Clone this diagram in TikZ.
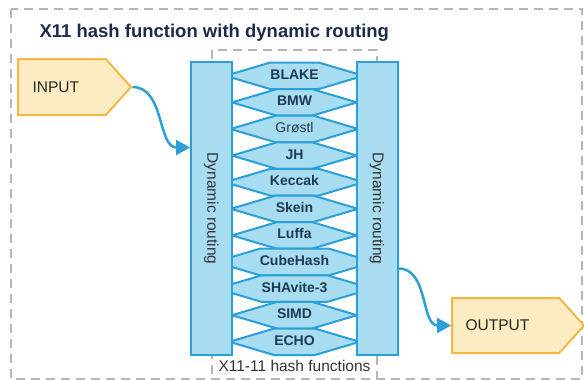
\documentclass[tikz,border=0pt]{standalone}
\usepackage{fontspec}
\setmainfont{Liberation Sans}
\usetikzlibrary{arrows.meta,shapes.symbols,positioning}

\definecolor{routefill}{HTML}{A7DCF1}
\definecolor{routeline}{HTML}{2A9FD8}
\definecolor{iofill}{HTML}{FDEBC2}
\definecolor{ioline}{HTML}{F3B843}
\definecolor{boxgray}{HTML}{B5B5B5}
\definecolor{hashtext}{HTML}{1D3C52}
\definecolor{titletext}{HTML}{1B2B4B}

\begin{document}
\begin{tikzpicture}[x=1pt,y=-1pt,>={Triangle[length=14pt,width=15pt]},
        route/.style={draw=routeline,fill=routefill,line width=2pt,
            minimum width=41pt,minimum height=293pt,inner sep=0pt},
        routetext/.style={rotate=-90,font=\fontsize{15.5}{16}\selectfont,text=black!80},
        hash/.style={signal,signal to=east and west,draw=routeline,fill=routefill,
            line width=2pt,minimum width=125pt,text height=10pt,text depth=3pt,
            inner xsep=0pt,inner ysep=6.8pt,signal pointer angle=33,
            font=\bfseries\fontsize{14}{14}\selectfont,text=hashtext},
        io/.style={signal,signal to=east,draw=ioline,fill=iofill,line width=2pt,
            signal pointer angle=96,inner sep=0pt,anchor=west},
        iotext/.style={anchor=west,font=\fontsize{15.5}{16}\selectfont,text=black!85},
        flow/.style={->,draw=routeline,line width=2.5pt},
        group/.style={draw=boxgray,line width=2pt,dash pattern=on 9pt off 6pt}]

    \useasboundingbox (0,0) rectangle (584,380);

    % outer frame and title
    \draw[group] (11,9) rectangle (582,379);
    \node[anchor=base west,font=\bfseries\fontsize{18.5}{20}\selectfont,text=titletext]
        (title) at (36,37) {X11 hash function with dynamic routing};

    % the eleven hash functions
    \draw[group] (212,50) rectangle (377,395);
    \foreach \name [count=\i from 0] in {BLAKE,BMW,\textmd{Grøstl},JH,Keccak,Skein,
            Luffa,CubeHash,SHAvite-3,SIMD,ECHO}
        \node[hash] (h\i) at (294.5,75.8+26.6*\i) {\name};
    \node[font=\fontsize{15.5}{16}\selectfont,text=black!80] (hashlabel) at (294.5,366)
        {X11-11 hash functions};

    % routing blocks
    \node[route] (lroute) at (211.5,208.5) {};
    \node[route] (rroute) at (377,208.5) {};
    \node[routetext] (ltext) at (lroute) {Dynamic routing};
    \node[routetext] (rtext) at (rroute) {Dynamic routing};

    % input and output
    \node[io,minimum width=113pt,minimum height=56pt] (input) at (17,87) {};
    \node[iotext] (intext) at ([xshift=12pt]input.west) {INPUT};
    \node[io,minimum width=132pt,minimum height=55pt] (output) at (451,325.5) {};
    \node[iotext] (outtext) at ([xshift=11pt]output.west) {OUTPUT};

    \draw[flow] (input.east) to[out=0,in=180] ([yshift=61pt]lroute.west);
    \draw[flow] ([yshift=-60pt]rroute.east) to[out=0,in=180] (output.west);

\end{tikzpicture}
\end{document}
